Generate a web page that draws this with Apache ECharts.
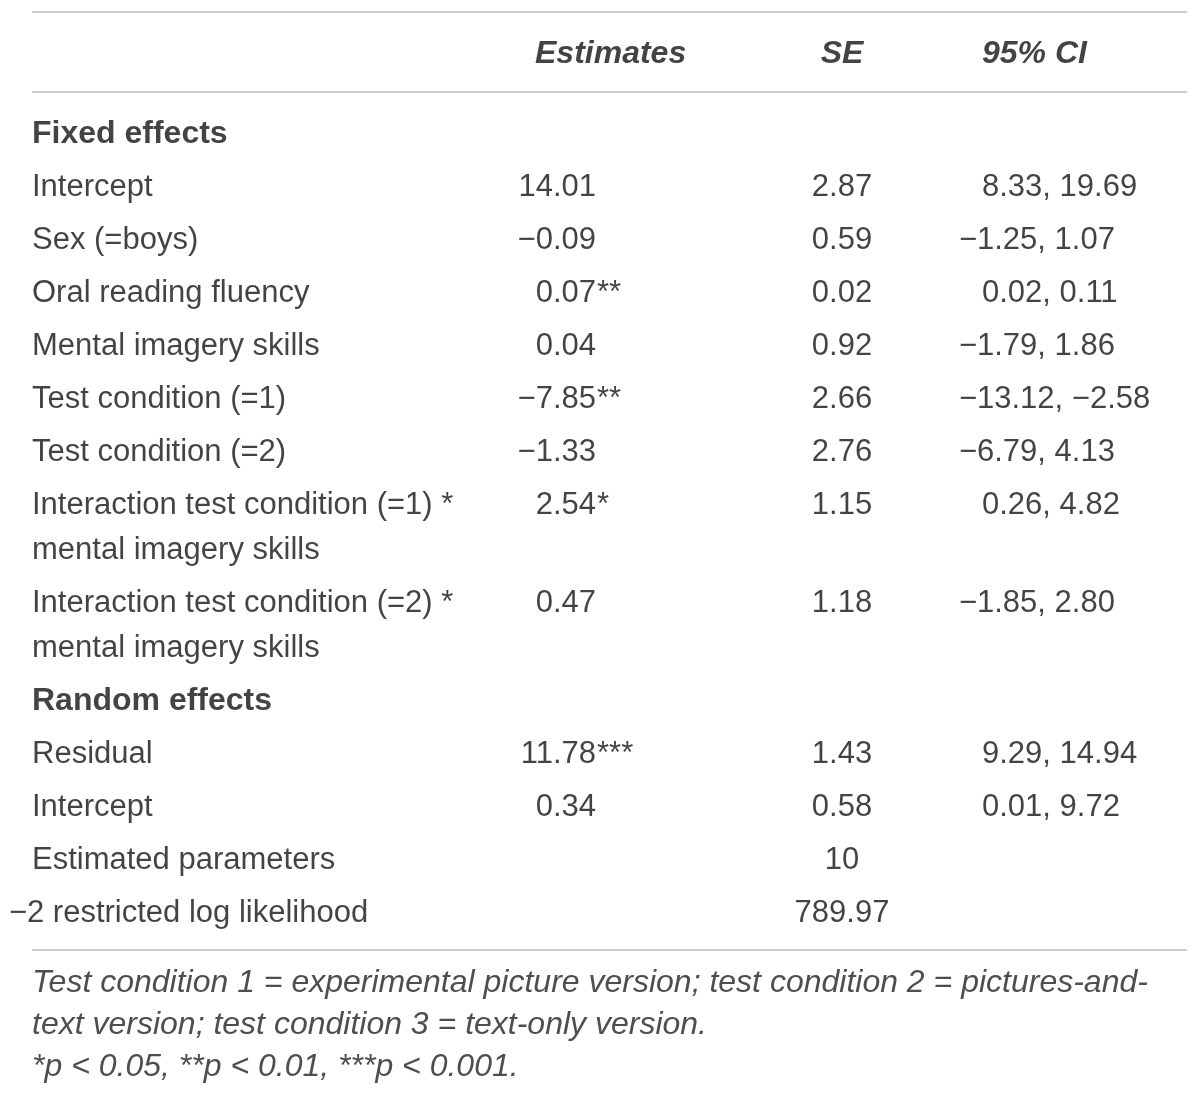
<!doctype html>
<html>
<head>
<meta charset="utf-8">
<title>Mixed model estimates</title>
<script src="https://cdn.jsdelivr.net/npm/echarts@6/dist/echarts.min.js"></script>
<style>
  html, body { margin: 0; padding: 0; background: #fff; }
  #main { width: 1200px; height: 1097px; }
</style>
</head>
<body>
<div id="main"></div>
<script>
// column headers
var headers = ['Estimates', 'SE', '95% CI'];

// fixed effects
var fixedLabels = ['Intercept', 'Sex (=boys)', 'Oral reading fluency', 'Mental imagery skills',
  'Test condition (=1)', 'Test condition (=2)',
  'Interaction test condition (=1) *\nmental imagery skills',
  'Interaction test condition (=2) *\nmental imagery skills'];
var fixedEst = ['14.01', '−0.09', '0.07', '0.04', '−7.85', '−1.33', '2.54', '0.47'];
var fixedStars = ['', '', '**', '', '**', '', '*', ''];
var fixedSE = ['2.87', '0.59', '0.02', '0.92', '2.66', '2.76', '1.15', '1.18'];
var fixedCI = ['8.33, 19.69', '−1.25, 1.07', '0.02, 0.11', '−1.79, 1.86',
  '−13.12, −2.58', '−6.79, 4.13', '0.26, 4.82', '−1.85, 2.80'];

// random effects and model fit
var randomLabels = ['Residual', 'Intercept', 'Estimated parameters', '−2 restricted log likelihood'];
var randomEst = ['11.78', '0.34', '', ''];
var randomStars = ['***', '', '', ''];
var randomSE = ['1.43', '0.58', '10', '789.97'];
var randomCI = ['9.29, 14.94', '0.01, 9.72', '', ''];

var notes = ['Test condition 1 = experimental picture version; test condition 2 = pictures-and-',
  'text version; test condition 3 = text-only version.',
  '*p < 0.05, **p < 0.01, ***p < 0.001.'];

// layout
var W = 1200, H = 1097;
var FONT = '"Liberation Sans", Helvetica, Arial, sans-serif';
var INK = '#141414';
var BODY = 31, HEAD = 32, NOTE = 32;
var xLabel = 32, xEst = 596, xEstHead = 535, xSE = 842, xCI = 982;
var ruleL = 32, ruleR = 1187;
var yTopRule = 12, yHead = 54, yHeadRule = 92, pitch = 53, wrap = 45;

var ctx = document.createElement('canvas').getContext('2d');
// leading minus signs hang into the margin, a little wider than the glyph itself
function hang(text, size) {
  if (text.charAt(0) !== '−') return 0;
  ctx.font = size + 'px ' + FONT;
  return ctx.measureText('−').width + 5;
}

var sections = [
  { title: 'Fixed effects', labels: fixedLabels, est: fixedEst, stars: fixedStars, se: fixedSE, ci: fixedCI },
  { title: 'Random effects', labels: randomLabels, est: randomEst, stars: randomStars, se: randomSE, ci: randomCI }
];

var labelData = [], sectionData = [], estData = [], starData = [], seData = [], ciData = [];
var y = yHeadRule + 42;
sections.forEach(function (s) {
  sectionData.push({ name: s.title, value: [xLabel, y] });
  y += pitch;
  s.labels.forEach(function (lab, i) {
    var lines = lab.split('\n');
    lines.forEach(function (ln, k) {
      labelData.push({ name: ln, value: [xLabel, y + k * wrap], label: { offset: [-hang(ln, BODY), 0] } });
    });
    if (s.est[i]) estData.push({ name: s.est[i], value: [xEst, y] });
    if (s.stars[i]) starData.push({ name: s.stars[i], value: [xEst + 1, y] });
    if (s.se[i]) seData.push({ name: s.se[i], value: [xSE, y] });
    if (s.ci[i]) ciData.push({ name: s.ci[i], value: [xCI, y], label: { offset: [-hang(s.ci[i], BODY), 0] } });
    y += pitch + wrap * (lines.length - 1);
  });
});
var yBottomRule = y - pitch + 37;
var noteData = notes.map(function (t, i) {
  return { name: t, value: [xLabel, yBottomRule + 33 + i * 42] };
});
var headData = [
  { name: headers[0], value: [xEstHead, yHead], label: { align: 'left' } },
  { name: headers[1], value: [xSE, yHead], label: { align: 'center' } },
  { name: headers[2], value: [xCI, yHead], label: { align: 'left' } }
];

function textSeries(name, data, align, extra) {
  var label = {
    show: true, position: 'inside', distance: 0, align: align, verticalAlign: 'middle',
    formatter: '{b}', color: INK, fontFamily: FONT, fontSize: BODY, fontWeight: 'normal'
  };
  for (var k in extra) label[k] = extra[k];
  return {
    name: name, type: 'scatter', data: data, symbolSize: 1,
    itemStyle: { color: 'transparent' }, label: label, silent: true
  };
}

var rules = [yTopRule, yHeadRule, yBottomRule].map(function (ry) {
  return [{ coord: [ruleL, ry] }, { coord: [ruleR, ry] }];
});

var chart = echarts.init(document.getElementById('main'), null, { renderer: 'canvas' });
var rulesSeries = textSeries('rules', [], 'left', {});
rulesSeries.markLine = {
  silent: true, symbol: 'none', animation: false,
  label: { show: false },
  lineStyle: { color: '#bcbcbc', width: 1.5, type: 'solid' },
  data: rules
};

chart.setOption({
  animation: false,
  backgroundColor: '#fff',
  grid: { left: 0, right: 0, top: 0, bottom: 0 },
  xAxis: { type: 'value', min: 0, max: W, show: false },
  yAxis: { type: 'value', min: 0, max: H, inverse: true, show: false },
  tooltip: { show: false },
  series: [
    rulesSeries,
    textSeries('headers', headData, 'left', { fontSize: HEAD, fontWeight: 'bold', fontStyle: 'italic' }),
    textSeries('sections', sectionData, 'left', { fontSize: HEAD, fontWeight: 'bold' }),
    textSeries('rowLabels', labelData, 'left', {}),
    textSeries('estimates', estData, 'right', {}),
    textSeries('stars', starData, 'left', {}),
    textSeries('se', seData, 'center', {}),
    textSeries('ci', ciData, 'left', {}),
    textSeries('notes', noteData, 'left', { fontSize: NOTE, fontStyle: 'italic', color: '#222' })
  ]
});
</script>
</body>
</html>
